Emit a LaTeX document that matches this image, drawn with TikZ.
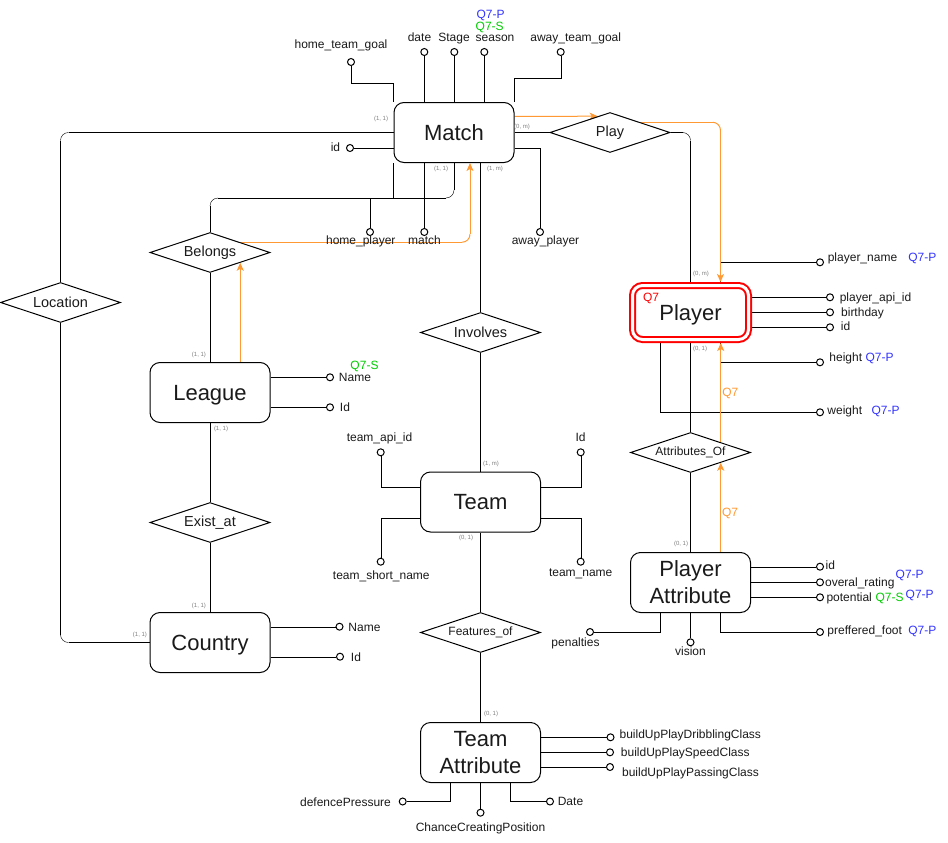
\documentclass[tikz,border=0pt]{standalone}
\usepackage{fontspec}
\setmainfont{Liberation Sans}
\usetikzlibrary{shapes.geometric,arrows.meta,backgrounds,calc}
\definecolor{flow}{HTML}{FF9933}
\definecolor{qblue}{HTML}{3333FF}
\definecolor{qgreen}{HTML}{00CC00}
\definecolor{cardgray}{HTML}{808080}
\definecolor{ink}{HTML}{1A1A1A}
% A connector with one rounded turn: straight runs and the short turn are
% stroked as separate pieces so that the straight runs stay crisp.
\newcommand{\turnline}[4][]{%
  \draw[#1] (#2) -- ($(#3)!8pt!(#2)$);
  \draw[#1,rounded corners=8pt] ($(#3)!8pt!(#2)$) -- (#3) -- ($(#3)!8pt!(#4)$);
  \draw[#1,turn end] ($(#3)!8pt!(#4)$) -- (#4);}
\begin{document}
\begin{tikzpicture}[x=1pt,y=-1pt,line width=1pt,
  entity/.style={draw, fill=white, rounded corners=10pt, minimum width=120pt,
    minimum height=60pt, inner sep=0pt, align=center, text=ink,
    font=\fontsize{22}{27}\selectfont},
  oneline/.style={text height=15.8pt, text depth=0pt},
  keyentity/.style={entity, oneline, draw=red, double=white, double distance=3pt,
    line width=2pt, minimum width=116pt, minimum height=54pt, outer sep=3.5pt},
  rel/.style={draw, fill=white, diamond, shape aspect=3, minimum width=120pt,
    minimum height=40pt, inner sep=0pt, text=ink, font=\fontsize{14.5}{16}\selectfont},
  relsmall/.style={rel, font=\fontsize{12}{14}\selectfont},
  att/.style={circle, draw, fill=white, minimum size=7pt, inner sep=0pt},
  lbl/.style={inner sep=0pt, text height=8.6pt, text depth=0pt, text=ink,
    font=\fontsize{12}{14}\selectfont},
  qp/.style={lbl, text=qblue},
  qs/.style={lbl, text=qgreen},
  qo/.style={lbl, text=flow},
  qr/.style={lbl, text=red},
  cardlbl/.style={inner sep=0pt, text=cardgray, font=\fontsize{6}{7}\selectfont},
  tipend/.style={-{Stealth[length=8pt,width=7pt,inset=2pt]}},
  flowline/.style={draw=flow, line width=1pt},
  flowarrow/.style={flowline, tipend},
  turn end/.style={},
]
\useasboundingbox (0,0) rectangle (948,843);

% ---------- entities ----------
\node[entity, oneline] (match) at (454,132.5) {Match};
\node[keyentity] (player) at (690.5,312.5) {Player};
\node[entity, oneline] (league) at (210,392.5) {League};
\node[entity, oneline] (country) at (210,642.5) {Country};
\node[entity, oneline] (team) at (480.5,502) {Team};
\node[entity] (teamattr) at (480.5,752.5) {Team\\Attribute};
\node[entity] (playerattr) at (690.5,582.5) {Player\\Attribute};

% ---------- relationships ----------
\node[rel] (play) at (610,132.5) {Play};
\node[rel] (belongs) at (210,252.5) {Belongs};
\node[rel] (location) at (60.5,302.5) {Location};
\node[rel] (existat) at (210,522.5) {Exist\_at};
\node[rel] (involves) at (480.5,332.5) {Involves};
\node[relsmall] (featuresof) at (480.5,632.5) {Features\_of};
\node[relsmall] (attrof) at (690.5,452.5) {Attributes\_Of};

% ---------- attribute ends ----------
% Match
\node[att] (m-htg) at (351,62) {};
\node[att] (m-date) at (424.3,52) {};
\node[att] (m-stage) at (454.3,52) {};
\node[att] (m-season) at (484.3,52) {};
\node[att] (m-atg) at (560.7,52) {};
\node[att] (m-id) at (350,148) {};
\node[att] (m-hp) at (370,232) {};
\node[att] (m-match) at (424.3,232) {};
\node[att] (m-ap) at (540,232) {};
% Player
\node[att] (p-name) at (820,262.3) {};
\node[att] (p-api) at (830,297.3) {};
\node[att] (p-birth) at (830,312.3) {};
\node[att] (p-id) at (830,327.3) {};
\node[att] (p-height) at (820,362.3) {};
\node[att] (p-weight) at (820,412.3) {};
% Player Attribute
\node[att] (pa-id) at (820,566.7) {};
\node[att] (pa-overall) at (820,582.3) {};
\node[att] (pa-pot) at (820,597.3) {};
\node[att] (pa-foot) at (820,632) {};
\node[att] (pa-vision) at (690.5,642.3) {};
\node[att] (pa-pen) at (590,632) {};
% League / Country
\node[att] (l-name) at (330,377.3) {};
\node[att] (l-id) at (330,407.3) {};
\node[att] (c-name) at (339.5,626.7) {};
\node[att] (c-id) at (340,656.7) {};
% Team
\node[att] (t-api) at (380.7,452.3) {};
\node[att] (t-id) at (580.7,452.3) {};
\node[att] (t-short) at (380.7,561.7) {};
\node[att] (t-name) at (580.7,561.7) {};
% Team Attribute
\node[att] (ta-drib) at (610.5,737.3) {};
\node[att] (ta-speed) at (610,752.3) {};
\node[att] (ta-pass) at (610,767) {};
\node[att] (ta-def) at (402.7,801.5) {};
\node[att] (ta-chance) at (480.5,812.7) {};
\node[att] (ta-date) at (550,801.5) {};

% ---------- turning points of the routed connectors ----------
\coordinate (locA) at (match.west -| location.north);
\coordinate (locB) at (location.south |- country.west);
\coordinate (bTurnA) at ($(match.south)+(0,35)$);
\coordinate (bTurnB) at (bTurnA -| belongs.north);
\coordinate (bTurnM) at ($(bTurnA)!0.5!(bTurnB)$);
\coordinate (ppC) at (play.east -| player.north);
\coordinate (pIn) at ($(player.north)+(30,0)$);
\coordinate (pTurnC) at (play.north east -| pIn);
\coordinate (mIn) at ($(match.south)+(16,0)$);
\coordinate (bFlowC) at (belongs.north east -| mIn);

% ---------- connectors ----------
\begin{scope}[on background layer]
  % relationships
  \draw (match.east) -- (play.west);
  \turnline{play.east}{ppC}{player.north}
  \turnline{match.west}{locA}{location.north}
  \turnline{location.south}{locB}{country.west}
  \turnline{match.south}{bTurnA}{bTurnM}
  \turnline{bTurnM}{bTurnB}{belongs.north}
  \draw (belongs.south) -- (league.north);
  \draw (league.south) -- (existat.north);
  \draw (existat.south) -- (country.north);
  \draw (match.south -| involves.north) -- (involves.north);
  \draw (involves.south) -- (team.north);
  \draw (team.south) -- (featuresof.north);
  \draw (featuresof.south) -- (teamattr.north);
  \draw (player.south) -- (attrof.north);
  \draw (attrof.south) -- (playerattr.north);

  % Match attributes
  \draw (m-htg) -- (m-htg |- 0,83) -| (match.north west);
  \draw (m-date) -- (m-date |- match.north);
  \draw (m-stage) -- (m-stage |- match.north);
  \draw (m-season) -- (m-season |- match.north);
  \draw (m-atg) -- (m-atg |- 0,78) -| (match.north east);
  \draw (m-id) -- (m-id -| match.west);
  \draw (match.south west) |- (m-hp |- bTurnA) -- (m-hp);
  \draw (m-match |- match.south) -- (m-match);
  \draw ([yshift=-15.5pt]match.east) -| (m-ap);

  % Player attributes
  \draw (pIn) |- (p-name);
  \draw (p-api -| player.east) -- (p-api);
  \draw (p-birth -| player.east) -- (p-birth);
  \draw (p-id -| player.east) -- (p-id);
  \draw ([xshift=30pt]player.south) |- (p-height);
  \draw ([xshift=-30pt]player.south) |- (p-weight);

  % Player Attribute attributes
  \draw (pa-id -| playerattr.east) -- (pa-id);
  \draw (pa-overall -| playerattr.east) -- (pa-overall);
  \draw (pa-pot -| playerattr.east) -- (pa-pot);
  \draw ([xshift=30pt]playerattr.south) |- (pa-foot);
  \draw (playerattr.south) -- (pa-vision);
  \draw ([xshift=-30pt]playerattr.south) |- (pa-pen);

  % League / Country attributes
  \draw (l-name -| league.east) -- (l-name);
  \draw (l-id -| league.east) -- (l-id);
  \draw (c-name -| country.east) -- (c-name);
  \draw (c-id -| country.east) -- (c-id);

  % Team attributes
  \draw ([yshift=15pt]team.west) -| (t-api);
  \draw ([yshift=15pt]team.east) -| (t-id);
  \draw ([yshift=-16pt]team.west) -| (t-short);
  \draw ([yshift=-16pt]team.east) -| (t-name);

  % Team Attribute attributes
  \draw (ta-drib -| teamattr.east) -- (ta-drib);
  \draw (ta-speed -| teamattr.east) -- (ta-speed);
  \draw (ta-pass -| teamattr.east) -- (ta-pass);
  \draw ([xshift=-30pt]teamattr.south) |- (ta-def);
  \draw (teamattr.south) -- (ta-chance);
  \draw ([xshift=30pt]teamattr.south) |- (ta-date);

  % query path
  \draw[flowarrow] ([yshift=16pt]match.east) -- (play.127);
  \turnline[flowline, turn end/.style={tipend}]{play.north east}{pTurnC}{pIn}
  \turnline[flowline, turn end/.style={tipend}]{belongs.north east}{bFlowC}{mIn}
  \draw[flowarrow] (league.north -| belongs.south east) -- (belongs.south east);
  \draw[flowarrow] (attrof.north east) -- (attrof.north east |- player.south);
  \draw[flowarrow] (playerattr.north -| attrof.south east) -- (attrof.south east);
\end{scope}

% ---------- labels ----------
\node[lbl] (l-htg) at (341,44) {home\_team\_goal};
\node[lbl] (l-date) at (419.5,37) {date};
\node[lbl] (l-stage) at (454,37) {Stage};
\node[lbl] (l-season) at (495,37) {season};
\node[qs] (l-season-s) at (489.7,26) {Q7-S};
\node[qp] (l-season-p) at (490.5,14.7) {Q7-P};
\node[lbl] (l-atg) at (575.7,37) {away\_team\_goal};
\node[lbl] (l-mid) at (335.5,146.7) {id};
\node[lbl] (l-hp) at (360.8,240) {home\_player};
\node[lbl] (l-match) at (424.5,240) {match};
\node[lbl] (l-ap) at (545.5,240) {away\_player};

\node[qr] (l-q7) at (651,297) {Q7};
\node[lbl] (l-pname) at (862.5,256.7) {player\_name};
\node[qp] (l-pname-p) at (922.3,256.7) {Q7-P};
\node[lbl] (l-papi) at (875.5,296.7) {player\_api\_id};
\node[lbl] (l-pbirth) at (862.5,311.7) {birthday};
\node[lbl] (l-pid) at (845.5,326) {id};
\node[lbl] (l-pheight) at (845.8,356.7) {height};
\node[qp] (l-pheight-p) at (879.5,356.7) {Q7-P};
\node[lbl] (l-pweight) at (844.8,410) {weight};
\node[qp] (l-pweight-p) at (885.5,410) {Q7-P};
\node[qo] (l-q7a) at (730.3,391.7) {Q7};
\node[qo] (l-q7b) at (730,511.7) {Q7};

\node[lbl] (l-paid) at (830.3,565) {id};
\node[lbl] (l-paover) at (859.8,582.3) {overal\_rating};
\node[qp] (l-paover-p) at (909.7,574.3) {Q7-P};
\node[lbl] (l-papot) at (849.2,596.7) {potential};
\node[qs] (l-papot-s) at (889.5,596.7) {Q7-S};
\node[qp] (l-papot-p) at (919.7,594.3) {Q7-P};
\node[lbl] (l-pafoot) at (864.7,630) {preffered\_foot};
\node[qp] (l-pafoot-p) at (922.3,630) {Q7-P};
\node[lbl] (l-pavis) at (690.5,650.7) {vision};
\node[lbl] (l-papen) at (575.5,642.3) {penalties};

\node[qs] (l-lname-s) at (364.5,365.5) {Q7-S};
\node[lbl] (l-lname) at (355,377) {Name};
\node[lbl] (l-lid) at (345,407) {Id};
\node[lbl] (l-cname) at (364.5,627) {Name};
\node[lbl] (l-cid) at (356,657) {Id};

\node[lbl] (l-tapi) at (379.5,437.3) {team\_api\_id};
\node[lbl] (l-tid) at (580.5,437) {Id};
\node[lbl] (l-tshort) at (381.3,575) {team\_short\_name};
\node[lbl] (l-tname) at (580.7,571.7) {team\_name};

\node[lbl] (l-tadrib) at (690.3,734) {buildUpPlayDribblingClass};
\node[lbl] (l-taspeed) at (685.3,752.3) {buildUpPlaySpeedClass};
\node[lbl] (l-tapass) at (690.5,772.3) {buildUpPlayPassingClass};
\node[lbl] (l-tadef) at (345.5,801.7) {defencePressure};
\node[lbl] (l-tachance) at (480.5,826.7) {ChanceCreatingPosition};
\node[lbl] (l-tadate) at (570.5,801) {Date};

% ---------- cardinalities ----------
\node[cardlbl] at (381,119) {(1, 1)};
\node[cardlbl] at (522,127) {(0, m)};
\node[cardlbl] at (441,169) {(1, 1)};
\node[cardlbl] at (495,169) {(1, m)};
\node[cardlbl] at (701,274) {(0, m)};
\node[cardlbl] at (700,349) {(0, 1)};
\node[cardlbl] at (681,544) {(0, 1)};
\node[cardlbl] at (199,355) {(1, 1)};
\node[cardlbl] at (221,429) {(1, 1)};
\node[cardlbl] at (199,606) {(1, 1)};
\node[cardlbl] at (140,635) {(1, 1)};
\node[cardlbl] at (491,464) {(1, m)};
\node[cardlbl] at (466,538) {(0, 1)};
\node[cardlbl] at (491,714) {(0, 1)};
\end{tikzpicture}
\end{document}
